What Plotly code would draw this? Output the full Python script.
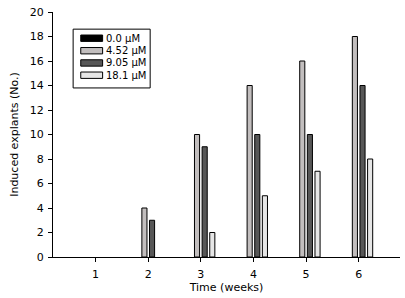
import plotly.graph_objects as go

weeks = [1, 2, 3, 4, 5, 6]
series_names = ["0.0 µM", "4.52 µM", "9.05 µM", "18.1 µM"]
v_0_0 = [0, 0, 0, 0, 0, 0]
v_4_52 = [0, 4, 10, 14, 16, 18]
v_9_05 = [0, 3, 9, 10, 10, 14]
v_18_1 = [0, 0, 2, 5, 7, 8]
series_values = [v_0_0, v_4_52, v_9_05, v_18_1]
colors = ["#000000", "#c2bebe", "#575757", "#e6e6e6"]

FONT = "DejaVu Sans"
fig = go.Figure()
for name, vals, col in zip(series_names, series_values, colors):
    fig.add_trace(go.Bar(x=weeks, y=vals, name=name, marker_color=col,
                         marker_line_color="#000000",
                         marker_line_width=[1 if v > 0 else 0 for v in vals],
                         showlegend=False))

# custom legend (box + swatches + labels)
shapes = []
annotations = []
lx0, lx1, ly0, ly1 = 0.058, 0.28, 0.69, 0.93
shapes.append(dict(type="rect", xref="paper", yref="paper", x0=lx0, x1=lx1, y0=ly0, y1=ly1,
                   line=dict(color="#000000", width=1), fillcolor="white", layer="above"))
ys = [0.893, 0.842, 0.792, 0.742]
for name, col, yy in zip(series_names, colors, ys):
    shapes.append(dict(type="rect", xref="paper", yref="paper", x0=0.08, x1=0.143,
                       y0=yy - 0.013, y1=yy + 0.013,
                       line=dict(color="#000000", width=1), fillcolor=col, layer="above"))
    annotations.append(dict(xref="paper", yref="paper", x=0.146, y=yy, text=name,
                            showarrow=False, xanchor="left", yanchor="middle",
                            font=dict(family=FONT, size=10, color="#000000")))

fig.update_layout(
    width=405, height=298,
    margin=dict(l=53, r=5, t=12, b=41),
    paper_bgcolor="white", plot_bgcolor="white",
    barmode="group", bargap=0.42, bargroupgap=0.33,
    font=dict(family=FONT, size=11, color="#000000"),
    shapes=shapes, annotations=annotations,
    xaxis=dict(range=[0.19, 6.785], tickvals=weeks, ticktext=[str(w) for w in weeks],
               showline=True, linecolor="#000000", linewidth=1, ticks="outside",
               ticklen=4, tickcolor="#000000", showgrid=False, zeroline=False,
               ticklabelstandoff=3,
               title=dict(text="Time (weeks)", standoff=3, font=dict(size=11))),
    yaxis=dict(range=[0, 20], dtick=2, showline=True, linecolor="#000000", linewidth=1,
               ticks="outside", ticklen=4, tickcolor="#000000", showgrid=False,
               zeroline=False, ticklabelstandoff=2,
               title=dict(text="Induced explants (No.)", standoff=8, font=dict(size=11))),
)
fig.write_html("out.html", config={"displayModeBar": False},
               post_script="document.body.style.margin='0';document.body.style.padding='0';")
